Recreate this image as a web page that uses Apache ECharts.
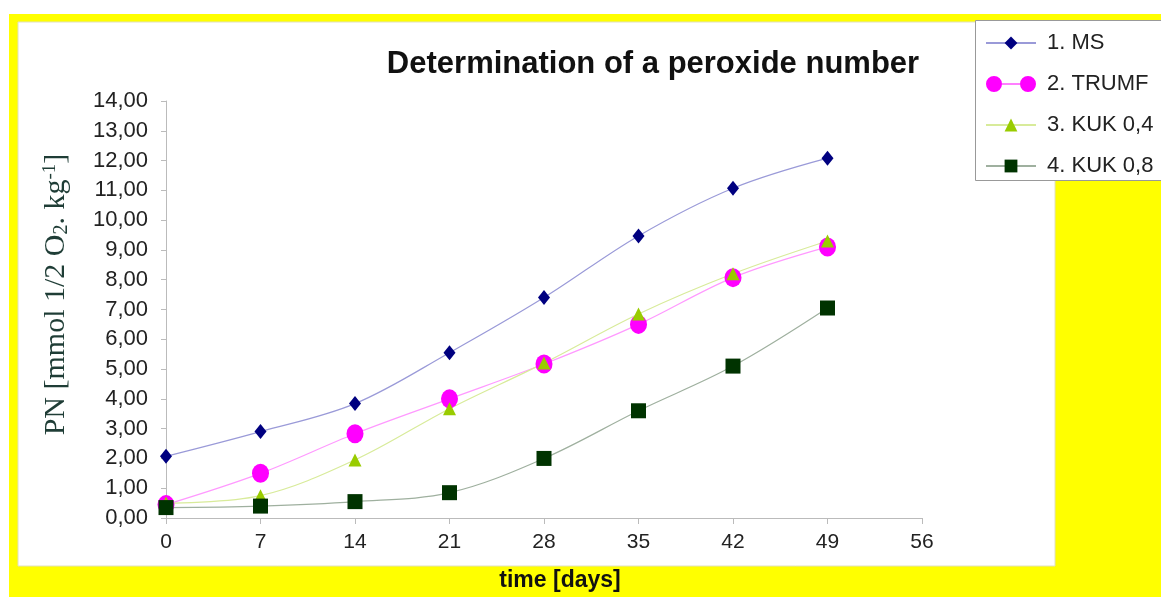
<!DOCTYPE html>
<html>
<head>
<meta charset="utf-8">
<script src="https://cdn.jsdelivr.net/npm/echarts@6/dist/echarts.min.js"></script>
<style>
  html, body { margin: 0; padding: 0; background: #fff; }
  #chart { width: 1161px; height: 597px; }
</style>
</head>
<body>
<div id="chart"></div>
<script>
// days of storage
const days = [0, 7, 14, 21, 28, 35, 42, 49]

// peroxide number, mmol 1/2 O2 per kg
const ms = [2.07, 2.9, 3.84, 5.55, 7.4, 9.47, 11.07, 12.08]
const trumf = [0.45, 1.5, 2.83, 4.0, 5.17, 6.5, 8.07, 9.1]
const kuk04 = [0.5, 0.75, 1.95, 3.67, 5.2, 6.85, 8.2, 9.3]
const kuk08 = [0.35, 0.4, 0.55, 0.85, 2.0, 3.6, 5.1, 7.05]

const seriesNames = ['1. MS', '2. TRUMF', '3. KUK 0,4', '4. KUK 0,8']

const chart = echarts.init(document.getElementById('chart'))

const toPairs = vals => vals.map((v, i) => [days[i], v])

const twoCircles = 'path://M0,8 A8,8 0 1,0 16,8 A8,8 0 1,0 0,8 Z M34,8 A8,8 0 1,0 50,8 A8,8 0 1,0 34,8 Z M16,7.5 L34,7.5 L34,8.5 L16,8.5 Z'

const option = {
  backgroundColor: '#ffff00',
  animation: false,
  textStyle: { fontFamily: 'Liberation Sans, Arial, sans-serif' },
  graphic: [
    // white margin top/left and inner white panel
    { type: 'rect', shape: { x: 0, y: 0, width: 1161, height: 14 }, style: { fill: '#fff' }, z: -10 },
    { type: 'rect', shape: { x: 0, y: 0, width: 9, height: 597 }, style: { fill: '#fff' }, z: -10 },
    { type: 'rect', shape: { x: 18, y: 22, width: 1037, height: 544 }, style: { fill: '#fff', stroke: '#e0e0c0', lineWidth: 1 }, z: -10 },
    // legend frame, running off the right edge
    { type: 'rect', shape: { x: 975.5, y: 20.5, width: 220, height: 160 }, style: { fill: '#fff', stroke: '#999', lineWidth: 1 }, z: -5 }
  ],
  title: {
    text: 'Determination of a peroxide number',
    left: 648,
    top: 44,
    textAlign: 'center',
    textStyle: { fontSize: 31, fontWeight: 'bold', color: '#111', fontFamily: 'Liberation Sans, Arial, sans-serif' }
  },
  legend: {
    orient: 'vertical',
    left: 975,
    top: 20,
    padding: [12, 10, 4, 10],
    itemGap: 19,
    itemWidth: 50,
    itemHeight: 16,
    textStyle: { fontSize: 22, color: '#222', padding: [0, 0, 0, 6] },
    data: [
      { name: seriesNames[0] },
      { name: seriesNames[1], icon: twoCircles },
      { name: seriesNames[2] },
      { name: seriesNames[3] }
    ]
  },
  grid: { left: 166, right: 239, top: 101, bottom: 79 },
  xAxis: {
    type: 'value',
    min: 0,
    max: 56,
    interval: 7,
    name: 'time [days]',
    nameLocation: 'middle',
    nameGap: 51,
    nameTextStyle: { fontSize: 23, fontWeight: 'bold', color: '#111', padding: [0, 0, 0, 32] },
    axisLine: { lineStyle: { color: '#bbb' } },
    axisTick: { inside: false, length: 6, lineStyle: { color: '#bbb' } },
    axisLabel: { fontSize: 21, color: '#222', margin: 14, showMaxLabel: true },
    splitLine: { show: false }
  },
  yAxis: {
    type: 'value',
    min: 0,
    max: 14,
    interval: 1,
    name: 'PN [mmol 1/2 O{sub|2}. kg{sup|-1}]',
    nameLocation: 'middle',
    nameRotate: 90,
    nameGap: 94,
    nameTextStyle: {
      fontSize: 30,
      fontFamily: 'Liberation Serif, Times New Roman, serif',
      color: '#1f3d36',
      padding: [0, 0, 0, 30],
      rich: {
        sub: { fontSize: 20, fontFamily: 'Liberation Serif, serif', color: '#1f3d36', verticalAlign: 'bottom', padding: [8, 0, 0, 0] },
        sup: { fontSize: 19, fontFamily: 'Liberation Serif, serif', color: '#1f3d36', verticalAlign: 'top', padding: [0, 0, 12, 0] }
      }
    },
    axisLine: { show: true, lineStyle: { color: '#bbb' } },
    axisTick: { show: true, inside: false, length: 5, lineStyle: { color: '#bbb' } },
    axisLabel: {
      fontSize: 22,
      color: '#222',
      margin: 18,
      formatter: v => v.toFixed(2).replace('.', ',')
    },
    splitLine: { show: false }
  },
  series: [
    {
      name: seriesNames[0],
      type: 'line',
      smooth: 0.35,
      data: toPairs(ms),
      symbol: 'diamond',
      symbolSize: [12, 15],
      itemStyle: { color: '#000080' },
      lineStyle: { color: '#9a9ad8', width: 1.2 }
    },
    {
      name: seriesNames[1],
      type: 'line',
      smooth: 0.35,
      data: toPairs(trumf),
      symbol: 'circle',
      symbolSize: [17, 19],
      itemStyle: { color: '#ff00ff' },
      lineStyle: { color: '#ff99ff', width: 1.2 }
    },
    {
      name: seriesNames[2],
      type: 'line',
      smooth: 0.35,
      data: toPairs(kuk04),
      symbol: 'triangle',
      symbolSize: 13,
      itemStyle: { color: '#99cc00' },
      lineStyle: { color: '#d8eb9a', width: 1.2 }
    },
    {
      name: seriesNames[3],
      type: 'line',
      smooth: 0.35,
      data: toPairs(kuk08),
      symbol: 'rect',
      symbolSize: 15,
      itemStyle: { color: '#003300' },
      lineStyle: { color: '#9fb09f', width: 1.2 }
    }
  ]
}

chart.setOption(option)
</script>
</body>
</html>
